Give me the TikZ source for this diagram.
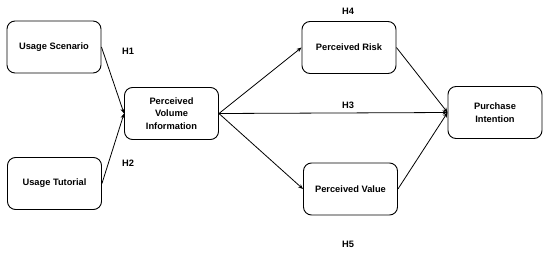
\documentclass[tikz,border=0pt]{standalone}
\usepackage{fontspec}
\setmainfont{Liberation Sans}
\usetikzlibrary{arrows.meta}
\begin{document}
\begin{tikzpicture}[x=1pt,y=-1pt,
  box/.style={draw, line width=0.9pt, rounded corners=8pt, minimum width=94pt, minimum height=52pt, align=center, inner sep=2pt, font=\fontsize{9.3}{12.5}\selectfont\bfseries},
  hlab/.style={font=\fontsize{9.3}{11}\selectfont\bfseries},
  conn/.style={line width=0.8pt, -{Stealth[length=5pt,width=4pt]}}]
\useasboundingbox (0,0) rectangle (550,255);
\node[box] (us) at (54,47) {Usage Scenario};
\node[box] (ut) at (54.5,183.5) {Usage Tutorial};
\node[box] (pvi) at (171.5,113.5) {Perceived\\Volume\\Information};
\node[box] (pr) at (349,47.5) {Perceived Risk};
\node[box] (pv) at (350.5,189) {Perceived Value};
\node[box] (pi) at (495,112.5) {Purchase\\Intention};
\node[hlab] (h1) at (128,51) {H1};
\node[hlab] (h2) at (128,163) {H2};
\node[hlab] (h4) at (348,11) {H4};
\node[hlab] (h3) at (348,105) {H3};
\node[hlab] (h5) at (348,244) {H5};
\draw[conn] (us.east) -- (pvi.west);
\draw[conn] (ut.east) -- (pvi.west);
\draw[conn] (pvi.east) -- (pr.west);
\draw[conn] (pvi.east) -- (pi.west);
\draw[conn] (pvi.east) -- (pv.west);
\draw[conn] (pr.east) -- (pi.west);
\draw[conn] (pv.east) -- (pi.west);
\end{tikzpicture}
\end{document}
